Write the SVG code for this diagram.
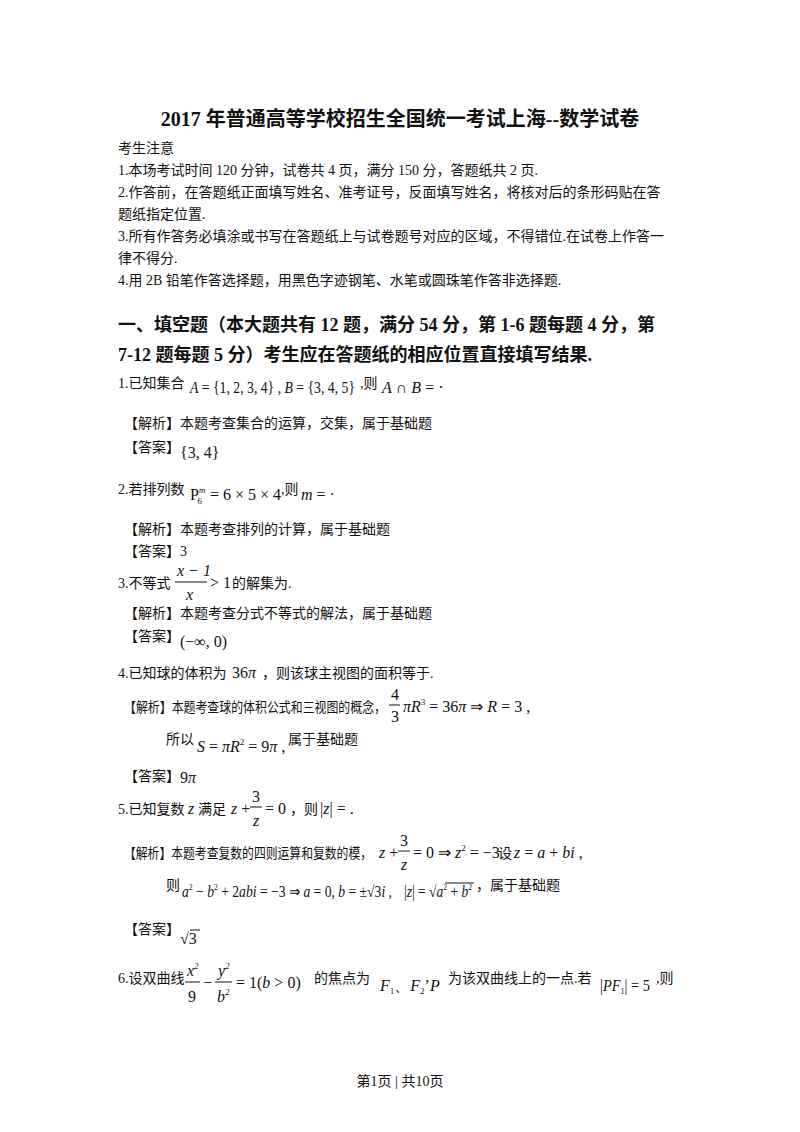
<svg xmlns="http://www.w3.org/2000/svg" width="800" height="1132" viewBox="0 0 800 1132">
<style>
text{font-family:"Liberation Serif","Noto Sans CJK SC",serif;font-size:14px;fill:#111}
.t{font-family:"Liberation Serif","Noto Sans CJK SC",serif;font-weight:bold;font-size:20px}
.h{font-family:"Liberation Serif","Noto Sans CJK SC",serif;font-weight:bold;font-size:18px}
.m{font-family:"Liberation Serif",serif;font-size:16px}
.i{font-style:italic}
.s{font-size:9px}
line{stroke:#111;stroke-width:1}
</style>
<rect width="800" height="1132" fill="#fff"/>
<text class="t" x="400" y="126" text-anchor="middle">2017 年普通高等学校招生全国统一考试上海--数学试卷</text>
<text x="118" y="153">考生注意</text>
<text x="118" y="175">1.本场考试时间 120 分钟，试卷共 4 页，满分 150 分，答题纸共 2 页.</text>
<text x="118" y="197">2.作答前，在答题纸正面填写姓名、准考证号，反面填写姓名，将核对后的条形码贴在答</text>
<text x="118" y="219">题纸指定位置.</text>
<text x="118" y="241">3.所有作答务必填涂或书写在答题纸上与试卷题号对应的区域，不得错位.在试卷上作答一</text>
<text x="118" y="263">律不得分.</text>
<text x="118" y="285">4.用 2B 铅笔作答选择题，用黑色字迹钢笔、水笔或圆珠笔作答非选择题.</text>
<text class="h" x="118" y="331">一、填空题（本大题共有 12 题，满分 54 分，第 1-6 题每题 4 分，第</text>
<text class="h" x="118" y="361">7-12 题每题 5 分）考生应在答题纸的相应位置直接填写结果.</text>

<text x="118" y="388">1.已知集合</text>
<text class="m" x="190" y="393" textLength="165" lengthAdjust="spacingAndGlyphs"><tspan class="i">A</tspan> = {1, 2, 3, 4} , <tspan class="i">B</tspan> = {3, 4, 5}</text>
<text x="360" y="388">,则</text>
<text class="m" x="382" y="393"><tspan class="i">A</tspan> ∩ <tspan class="i">B</tspan> = ·</text>
<text x="124" y="428">【解析】本题考查集合的运算，交集，属于基础题</text>
<text x="124" y="452">【答案】</text>
<text class="m" x="180" y="458">{3, 4}</text>

<text x="118" y="494">2.若排列数</text>
<text class="m" x="190" y="500">P<tspan class="s i" dy="-7">m</tspan><tspan class="s" dx="-8" dy="11">6</tspan><tspan dy="-4" dx="4"> = 6 × 5 × 4</tspan></text>
<text x="281" y="494">,则</text>
<text class="m" x="301" y="500"><tspan class="i">m</tspan> = ·</text>
<text x="124" y="534">【解析】本题考查排列的计算，属于基础题</text>
<text x="124" y="556">【答案】3</text>

<text x="118" y="588">3.不等式</text>
<text class="m i" x="177" y="576">x − 1</text>
<line x1="175" y1="582" x2="207" y2="582"/>
<text class="m i" x="186" y="600">x</text>
<text class="m" x="210" y="588">&gt; 1</text>
<text x="232" y="588">的解集为.</text>
<text x="124" y="618">【解析】本题考查分式不等式的解法，属于基础题</text>
<text x="124" y="641">【答案】</text>
<text class="m" x="180" y="647">(−∞, 0)</text>

<text x="118" y="678">4.已知球的体积为</text>
<text class="m" x="232" y="678">36<tspan class="i">π</tspan></text>
<text x="262" y="678">，则该球主视图的面积等于.</text>
<text x="124" y="712" textLength="262" lengthAdjust="spacingAndGlyphs">【解析】本题考查球的体积公式和三视图的概念，</text>
<text class="m" x="391" y="700">4</text>
<line x1="389" y1="705" x2="400" y2="705"/>
<text class="m" x="391" y="722">3</text>
<text class="m" x="403" y="712"><tspan class="i">πR</tspan><tspan class="s" dy="-7">3</tspan><tspan dy="7"> = 36</tspan><tspan class="i">π</tspan> ⇒ <tspan class="i">R</tspan> = 3 ,</text>
<text x="166" y="744">所以</text>
<text class="m" x="197" y="752"><tspan class="i">S</tspan> = <tspan class="i">πR</tspan><tspan class="s" dy="-7">2</tspan><tspan dy="7"> = 9</tspan><tspan class="i">π</tspan> ,</text>
<text x="288" y="744">属于基础题</text>
<text x="124" y="781">【答案】</text>
<text class="m" x="180" y="783">9<tspan class="i">π</tspan></text>

<text x="118" y="814">5.已知复数</text>
<text class="m i" x="188" y="814">z</text>
<text x="198" y="814">满足</text>
<text class="m" x="231" y="814"><tspan class="i">z</tspan> +</text>
<text class="m" x="252" y="802">3</text>
<line x1="250" y1="807" x2="262" y2="807"/>
<text class="m i" x="253" y="826">z</text>
<text class="m" x="265" y="814">= 0</text>
<text x="290" y="814">，则</text>
<text class="m" x="320" y="814">|<tspan class="i">z</tspan>| = .</text>
<text x="124" y="858" textLength="248" lengthAdjust="spacingAndGlyphs">【解析】本题考查复数的四则运算和复数的模，</text>
<text class="m" x="379" y="858"><tspan class="i">z</tspan> +</text>
<text class="m" x="400" y="846">3</text>
<line x1="398" y1="851" x2="410" y2="851"/>
<text class="m i" x="401" y="870">z</text>
<text class="m" x="413" y="858">= 0 ⇒ <tspan class="i">z</tspan><tspan class="s" dy="-7">2</tspan><tspan dy="7"> = −3</tspan></text>
<text x="498" y="858">设</text>
<text class="m" x="514" y="858"><tspan class="i">z</tspan> = <tspan class="i">a</tspan> + <tspan class="i">bi</tspan> ,</text>
<text x="166" y="890">则</text>
<text class="m" x="182" y="897" textLength="210" lengthAdjust="spacingAndGlyphs"><tspan class="i">a</tspan><tspan class="s" dy="-7">2</tspan><tspan dy="7"> − </tspan><tspan class="i">b</tspan><tspan class="s" dy="-7">2</tspan><tspan dy="7"> + 2</tspan><tspan class="i">abi</tspan> = −3 ⇒ <tspan class="i">a</tspan> = 0, <tspan class="i">b</tspan> = ±√3<tspan class="i">i</tspan> ,</text>
<text class="m" x="404" y="897" textLength="68" lengthAdjust="spacingAndGlyphs">|<tspan class="i">z</tspan>| = √<tspan class="i">a</tspan><tspan class="s" dy="-7">2</tspan><tspan dy="7"> + </tspan><tspan class="i">b</tspan><tspan class="s" dy="-7">2</tspan></text>
<line x1="445" y1="883" x2="474" y2="883"/>
<text x="476" y="890">，属于基础题</text>
<text x="124" y="934">【答案】</text>
<text class="m" x="180" y="944">√3</text>
<line x1="190" y1="930" x2="200" y2="930"/>

<text x="118" y="983">6.设双曲线</text>
<text class="m i" x="187" y="976">x<tspan class="s" dy="-7">2</tspan></text>
<line x1="185" y1="982" x2="200" y2="982"/>
<text class="m" x="188" y="1002">9</text>
<text class="m" x="203" y="988">−</text>
<text class="m i" x="218" y="976">y<tspan class="s" dy="-7">2</tspan></text>
<line x1="215" y1="982" x2="232" y2="982"/>
<text class="m i" x="217" y="1002">b<tspan class="s" dy="-7">2</tspan></text>
<text class="m" x="236" y="988">= 1(<tspan class="i">b</tspan> &gt; 0)</text>
<text x="314" y="983">的焦点为</text>
<text class="m" x="380" y="991"><tspan class="i">F</tspan><tspan class="s" dy="3">1</tspan><tspan dy="-3">、</tspan><tspan class="i">F</tspan><tspan class="s" dy="3">2</tspan><tspan dy="-3">’</tspan><tspan class="i">P</tspan></text>
<text x="448" y="983">为该双曲线上的一点.若</text>
<text class="m" x="600" y="991" textLength="50" lengthAdjust="spacingAndGlyphs">|<tspan class="i">PF</tspan><tspan class="s" dy="3">1</tspan><tspan dy="-3">| = 5</tspan></text>
<text x="656" y="983">,则</text>

<text x="400" y="1086" text-anchor="middle" font-size="12">第1页 | 共10页</text>
</svg>
